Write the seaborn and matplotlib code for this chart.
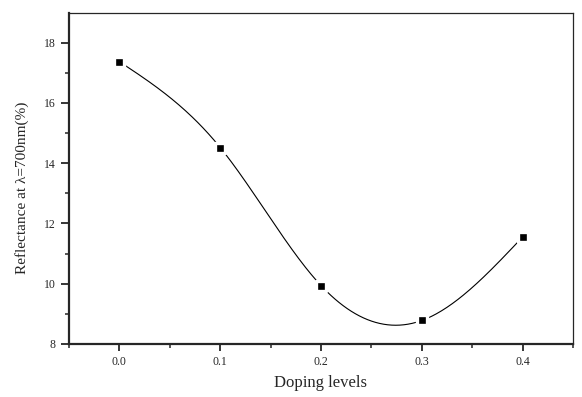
import numpy as np
import matplotlib
matplotlib.use("Agg")
import matplotlib.pyplot as plt
import seaborn as sns
import pandas as pd
from matplotlib.ticker import MultipleLocator, FixedLocator

# data
doping = [0.0, 0.1, 0.2, 0.3, 0.4]
reflectance = [17.37, 14.52, 9.94, 8.78, 11.55]


def natural_spline(x, y, n=300):
    # natural cubic spline through the points (like Origin's spline connector)
    x = np.asarray(x, float)
    y = np.asarray(y, float)
    k = len(x)
    h = np.diff(x)
    A = np.zeros((k, k))
    b = np.zeros(k)
    A[0, 0] = A[-1, -1] = 1
    for i in range(1, k - 1):
        A[i, i - 1] = h[i - 1]
        A[i, i] = 2 * (h[i - 1] + h[i])
        A[i, i + 1] = h[i]
        b[i] = 6 * ((y[i + 1] - y[i]) / h[i] - (y[i] - y[i - 1]) / h[i - 1])
    M = np.linalg.solve(A, b)
    xs = np.linspace(x[0], x[-1], n)
    idx = np.clip(np.searchsorted(x, xs) - 1, 0, k - 2)
    x0, x1 = x[idx], x[idx + 1]
    hh = x1 - x0
    ys = (M[idx] * (x1 - xs) ** 3 / (6 * hh) + M[idx + 1] * (xs - x0) ** 3 / (6 * hh)
          + (y[idx] / hh - M[idx] * hh / 6) * (x1 - xs)
          + (y[idx + 1] / hh - M[idx + 1] * hh / 6) * (xs - x0))
    return xs, ys


sns.set_style("ticks")
plt.rcParams['font.family'] = ['Liberation Serif', 'DejaVu Serif']

df = pd.DataFrame({'Doping levels': doping, 'Reflectance': reflectance})
xs, ys = natural_spline(doping, reflectance)
curve = pd.DataFrame({'x': xs, 'y': ys})

fig = plt.figure(figsize=(5.82, 3.97), dpi=100)
ax = fig.add_axes([69 / 582, 53 / 397, 504 / 582, 331.5 / 397])

sns.lineplot(data=curve, x='x', y='y', ax=ax, color='black', linewidth=0.8)
sns.scatterplot(data=df, x='Doping levels', y='Reflectance', ax=ax, marker='s',
                color='black', s=62, edgecolor='white', linewidth=2.4, zorder=3)

ax.set_xlim(-0.05, 0.45)
ax.set_ylim(8, 19)
ax.xaxis.set_major_locator(MultipleLocator(0.1))
ax.xaxis.set_minor_locator(MultipleLocator(0.05))
ax.yaxis.set_major_locator(MultipleLocator(2))
ax.yaxis.set_minor_locator(FixedLocator([9, 11, 13, 15, 17]))
ax.xaxis.set_major_formatter(plt.FuncFormatter(lambda v, p: f"{v:.1f}"))
ax.yaxis.set_major_formatter(plt.FuncFormatter(lambda v, p: f"{v:.0f}"))

ax.tick_params(which='major', direction='out', length=5, width=1.3, labelsize=8.5)
ax.tick_params(which='minor', direction='out', length=3, width=1.1)
ax.tick_params(axis='y', which='major', length=6)
for side in ['left', 'bottom']:
    ax.spines[side].set_linewidth(1.6)
for side in ['top', 'right']:
    ax.spines[side].set_visible(True)
    ax.spines[side].set_linewidth(0.9)

ax.set_xlabel('Doping levels', fontsize=12, labelpad=5)
ax.set_ylabel('Reflectance at λ=700nm(%)', fontsize=11)
ax.yaxis.set_label_coords(-0.08, 0.47)

plt.savefig('out.png', dpi=100)
plt.close()
